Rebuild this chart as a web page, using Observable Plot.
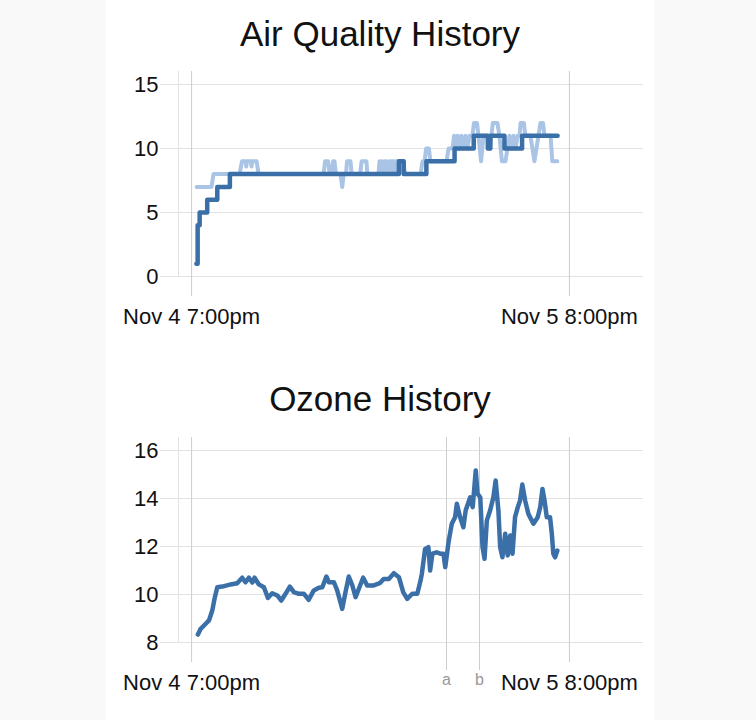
<!DOCTYPE html>
<html><head><meta charset="utf-8">
<script src="https://cdn.jsdelivr.net/npm/d3@7"></script>
<script src="https://cdn.jsdelivr.net/npm/@observablehq/plot@0.6"></script>
<style>
html,body{margin:0;padding:0;background:#f9f9f9;}
#page{position:absolute;left:106px;top:0;width:548px;height:720px;background:#fff;font-family:"Liberation Sans",Arial,sans-serif;}
.title{position:absolute;left:0;width:548px;text-align:center;font-size:35px;line-height:35px;color:#111;margin:0;font-weight:normal;white-space:nowrap;}
.chart{position:absolute;left:0;}
</style></head>
<body><div id="page">
<div class="title" style="top:16px">Air Quality History</div>
<div class="chart" id="c1" style="top:50px"></div>
<div class="title" style="top:381px">Ozone History</div>
<div class="chart" id="c2" style="top:417px"></div>
</div>
<script>
// time origin: minutes are counted from Nov 4, 7:00pm
const originTime = "2023-11-04T19:00";
const xDomain = ["2023-11-04T18:08", "2023-11-06T00:54"];
const xTickTimes = ["2023-11-04T19:00", "2023-11-05T20:00"];
const xTickLabels = ["Nov 4 7:00pm", "Nov 5 8:00pm"];
const markerTimes = ["2023-11-05T11:52", "2023-11-05T14:03"];
const markerLabels = ["a", "b"];
const aqYTicks = [0, 5, 10, 15];
const ozYTicks = [8, 10, 12, 14, 16];

// Air quality raw readings [minutes, value]
const aqRaw = [[20,7],[79,7],[87,8],[190,8],[200,9],[214,9],[217,8.6],[220,9],[235,9],[238,8.6],[241,9],[258,9],[266,8],
[524,8],[530,9],[542,9],[548,8],[556,8],[562,9],[567,9],[573,8],[591,8],[598,7],[604,8],[613,8],[617,9],[631,9],[635,8],
[669,8],[675,9],[694,9],[698,8],[742,8],[746,9],[750,8],[756,9],[760,8],[766,9],[774,9],[778,8],[786,9],[790,8],[794,9],
[802,9],[806,8],[810,9],[814,8],[817,9],[841,9],[847,8],[909,8],[917,9],[925,9],[931,10],[942,10],[948,9],[1012,9],
[1020,10],[1036,10],[1042,11],[1048,10],[1056,11],[1063,10],[1071,11],[1079,10],[1087,11],[1095,10],[1103,11],[1115,11],
[1121,12],[1133,12],[1139,11],[1149,9],[1159,11],[1175,11],[1183,10],[1190,11],[1196,12],[1214,12],[1222,11],[1232,9],
[1246,9],[1254,10],[1262,11],[1270,10],[1278,11],[1286,10],[1294,11],[1302,11],[1306,12],[1319,12],[1325,11],[1345,11],
[1353,10],[1361,9],[1369,10],[1377,11],[1385,12],[1395,12],[1401,11],[1425,11],[1432,9],[1452,9]];

// Air quality smoothed (step) [minutes, value]
const aqAvg = [[19,1],[24,4],[32,5],[62,6],[102,7],[152,8],[823,9],[842,8],[932,9],[1044,10],[1120,11],[1176,10],[1186,11],[1242,10],[1312,11],[1453,11]];

// Ozone [minutes, value]
const ozone = [[25,8.33],[36,8.57],[56,8.78],[69,8.92],[82,9.33],[91,9.82],[102,10.3],[122,10.33],[155,10.42],[181,10.47],
[201,10.7],[214,10.51],[227,10.7],[241,10.5],[250,10.7],[267,10.42],[287,10.3],[303,9.86],[320,10.05],[340,9.96],[356,9.75],
[373,10.03],[390,10.33],[406,10.1],[426,10.03],[446,10.03],[465,9.78],[485,10.17],[505,10.28],[519,10.3],[535,10.75],
[545,10.51],[565,10.51],[578,10.17],[598,9.4],[611,10.1],[624,10.75],[638,10.38],[651,9.89],[664,10.24],[681,10.7],
[697,10.38],[723,10.38],[747,10.47],[763,10.65],[783,10.65],[803,10.89],[823,10.72],[840,10.1],[856,9.82],[876,10.03],
[896,10.03],[909,10.58],[914,10.86],[927,11.9],[940,11.97],[947,11.0],[956,11.7],[973,11.76],[987,11.7],[1000,11.7],
[1007,11.14],[1020,12.18],[1033,12.95],[1046,13.22],[1053,13.78],[1066,13.22],[1079,12.8],[1088,13.5],[1106,14.05],
[1116,13.64],[1128,15.17],[1135,14.2],[1146,14.05],[1155,11.97],[1163,11.49],[1172,13.08],[1185,13.5],[1198,14.05],
[1207,14.75],[1218,13.5],[1225,11.97],[1234,11.55],[1245,12.53],[1255,11.63],[1265,12.46],[1274,11.7],[1284,13.22],
[1295,13.64],[1304,13.92],[1313,14.58],[1324,13.92],[1337,13.36],[1357,12.95],[1374,13.22],[1384,13.64],[1393,14.4],
[1401,13.92],[1410,13.22],[1423,13.22],[1430,12.53],[1436,11.7],[1443,11.55],[1452,11.83]];

const parse = s => new Date(s);
const origin = parse(originTime);
const toRows = arr => arr.map(([m, v]) => ({t: new Date(+origin + m * 60000), v}));
const domain = xDomain.map(parse);
const ticks = xTickTimes.map(parse);
const markers = markerTimes.map(parse);
const labelOf = (dates, labels) => d => labels[dates.findIndex(t => +t === +d)];

const DARK = "#3a6fa8", LIGHT = "#a9c4e5", HGRID = "#e2e2e2", VGRID = "#cdcdcd";
const FONT = "'Liberation Sans', Arial, sans-serif";

function base(yDomain, yTicks, marginTop, height, extra) {
  return {
    width: 548, height, marginTop, marginBottom: 60, marginLeft: 72, marginRight: 11,
    style: {fontFamily: FONT, fontSize: "22px", color: "#111", background: "transparent", overflow: "visible"},
    x: {type: "time", domain, label: null},
    y: {domain: yDomain, insetTop: 13, label: null},
    marks: [
      Plot.ruleX([domain[0]], {stroke: HGRID}),
      Plot.gridY(yTicks, {stroke: HGRID, strokeOpacity: 1}),
      Plot.gridX(ticks, {stroke: VGRID, strokeOpacity: 1}),
      Plot.axisY(yTicks, {label: null, tickSize: 18, tickPadding: 2, stroke: HGRID, fill: "#111", fontSize: 22}),
      Plot.axisX(ticks, {label: null, tickSize: 20, tickPadding: 12, stroke: VGRID, fill: "#111", fontSize: 22,
        tickFormat: labelOf(ticks, xTickLabels)}),
      ...extra
    ]
  };
}

const c1 = Plot.plot(base([0, 15], aqYTicks, 21, 286, [
  Plot.line(toRows(aqRaw), {x: "t", y: "v", stroke: LIGHT, strokeWidth: 4}),
  Plot.line(toRows(aqAvg), {x: "t", y: "v", stroke: DARK, strokeWidth: 4.5, curve: "step-after"})
]));
document.getElementById("c1").append(c1);

const c2 = Plot.plot(base([8, 16], ozYTicks, 20, 285, [
  Plot.gridX(markers, {stroke: VGRID, strokeOpacity: 1}),
  Plot.axisX(markers, {label: null, tickSize: 28, tickPadding: 3, stroke: VGRID, fill: "#999", fontSize: 16,
    tickFormat: labelOf(markers, markerLabels)}),
  Plot.line(toRows(ozone), {x: "t", y: "v", stroke: DARK, strokeWidth: 4.5})
]));
document.getElementById("c2").append(c2);
</script>
</body></html>
